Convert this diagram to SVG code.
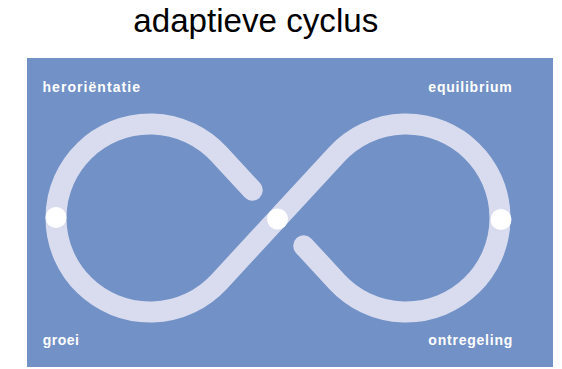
<svg xmlns="http://www.w3.org/2000/svg" width="562" height="369" viewBox="0 0 562 369">
  <style>
    .title { font-family: "Liberation Sans", Arial, sans-serif; font-size: 33px; fill: #000000; }
    .lbl { font-family: "Liberation Sans", Arial, sans-serif; font-size: 14px; font-weight: bold; fill: #FFFFFF; }
    .tube { fill: none; stroke: #D8DCEE; stroke-width: 21; stroke-linecap: round; stroke-linejoin: round; }
    .dot { fill: #FFFFFF; }
  </style>
  <rect x="0" y="0" width="562" height="369" fill="#FFFFFF"/>
  <text class="title" x="255.8" y="32" text-anchor="middle" textLength="245" lengthAdjust="spacingAndGlyphs">adaptieve cyclus</text>
  <rect x="27" y="58" width="526" height="309" fill="#7291C6"/>
  <g id="connectors">
    <path class="tube" d="M 252.3 190.2 L 219.03 154.2 A 94 94 0 1 0 219.03 281.8 L 336.97 154.2 A 94 94 0 1 1 336.97 281.8 L 303.7 245.8"/>
  </g>
  <g id="node-left"><circle class="dot" cx="56" cy="217.5" r="10.5"/></g>
  <g id="node-center"><circle class="dot" cx="277.5" cy="219" r="10.5"/></g>
  <g id="node-right"><circle class="dot" cx="501" cy="219.5" r="10.5"/></g>
  <g id="label-heroriëntatie"><text class="lbl" x="42.5" y="92" textLength="97.5" lengthAdjust="spacing">heroriëntatie</text></g>
  <g id="label-equilibrium"><text class="lbl" x="428.3" y="92" textLength="83.4" lengthAdjust="spacing">equilibrium</text></g>
  <g id="label-groei"><text class="lbl" x="42.7" y="344.5" textLength="36.3" lengthAdjust="spacing">groei</text></g>
  <g id="label-ontregeling"><text class="lbl" x="428.3" y="345" textLength="84" lengthAdjust="spacing">ontregeling</text></g>
</svg>
